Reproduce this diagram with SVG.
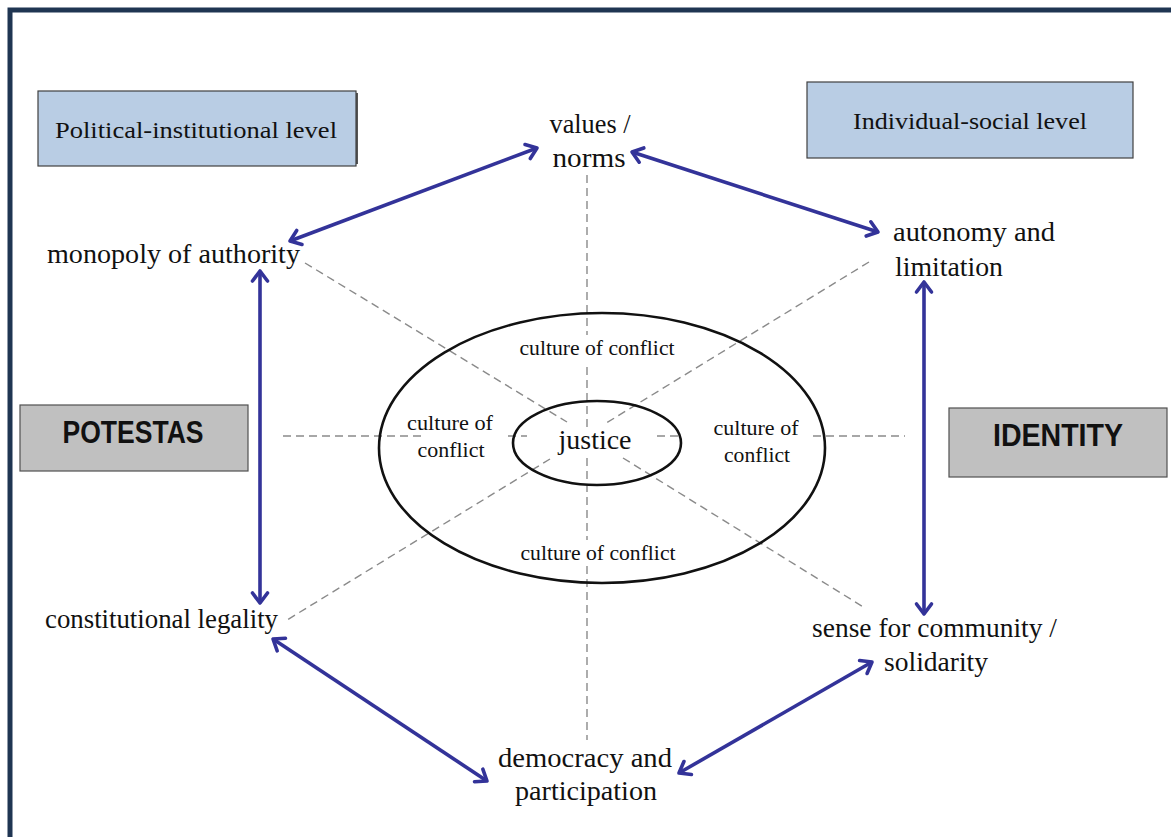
<svg xmlns="http://www.w3.org/2000/svg" width="1171" height="837" viewBox="0 0 1171 837">
  <style>
    .lbl { font-family: "Liberation Serif", "DejaVu Serif", serif; font-size: 27px; fill: #111; }
    .coc { font-family: "Liberation Serif", "DejaVu Serif", serif; font-size: 21px; fill: #111; }
    .lvl { font-family: "Liberation Serif", "DejaVu Serif", serif; font-size: 23px; fill: #111; }
    .big { font-family: "Liberation Sans", "Arial", sans-serif; font-size: 31px; font-weight: bold; fill: #111; }
    .lvlbox { fill: #b9cde4; stroke: #404040; stroke-width: 1.2; }
    .greybox { fill: #c0c0c0; stroke: #505050; stroke-width: 1.2; }
    .ring { fill: none; stroke: #111; stroke-width: 2.6; }
    .dash { fill: none; stroke: #8a8a8a; stroke-width: 1.4; stroke-dasharray: 8 5; }
    .link { fill: none; stroke: #333399; stroke-width: 3.6; marker-start: url(#chev); marker-end: url(#chev); }
  </style>
  <defs>
    <marker id="chev" viewBox="-14 -10 18 20" refX="0" refY="0" markerWidth="18" markerHeight="20" markerUnits="userSpaceOnUse" orient="auto-start-reverse" overflow="visible">
      <path d="M-10,-7.5 L0,0 L-10,7.5" fill="none" stroke="#333399" stroke-width="3.6" stroke-linejoin="round" stroke-linecap="round"/>
    </marker>
  </defs>

  <!-- page frame -->
  <rect x="0" y="0" width="1171" height="837" fill="#ffffff"/>
  <rect x="10" y="10" width="1200" height="900" fill="#ffffff" stroke="#1f3552" stroke-width="5"/>

  <!-- level boxes -->
  <g id="political-level">
    <rect x="40" y="93" width="318" height="71" fill="#555"/>
    <rect class="lvlbox" x="38" y="91" width="318" height="75"/>
    <text class="lvl" x="196" y="138" text-anchor="middle" textLength="282" lengthAdjust="spacingAndGlyphs">Political-institutional level</text>
  </g>
  <g id="individual-level">
    <rect class="lvlbox" x="807" y="82" width="326" height="76"/>
    <text class="lvl" x="970" y="129" text-anchor="middle" textLength="234" lengthAdjust="spacingAndGlyphs">Individual-social level</text>
  </g>
  <g id="potestas">
    <rect class="greybox" x="20" y="405" width="228" height="66"/>
    <text class="big" x="133" y="443" text-anchor="middle" textLength="141" lengthAdjust="spacingAndGlyphs">POTESTAS</text>
  </g>
  <g id="identity">
    <rect class="greybox" x="949" y="408" width="218" height="69"/>
    <text class="big" x="1058" y="446" text-anchor="middle" textLength="130" lengthAdjust="spacingAndGlyphs">IDENTITY</text>
  </g>

  <!-- dashed guide lines through the centre -->
  <g id="guides">
    <line class="dash" x1="587" y1="175" x2="587" y2="335"/>
    <line class="dash" x1="587" y1="367" x2="587" y2="428"/>
    <line class="dash" x1="587" y1="458" x2="587" y2="540"/>
    <line class="dash" x1="587" y1="566" x2="587" y2="740"/>
    <line class="dash" x1="283" y1="436" x2="422" y2="436"/>
    <line class="dash" x1="508" y1="436" x2="527" y2="436"/>
    <line class="dash" x1="657" y1="436" x2="678" y2="436"/>
    <line class="dash" x1="813" y1="436" x2="905" y2="436"/>
    <line class="dash" x1="305" y1="263" x2="567" y2="422"/>
    <line class="dash" x1="623" y1="458" x2="865" y2="608"/>
    <line class="dash" x1="869" y1="262" x2="603" y2="425"/>
    <line class="dash" x1="550" y1="459" x2="287" y2="620"/>
  </g>

  <!-- central rings -->
  <g id="outer-ring">
    <ellipse class="ring" cx="602" cy="448" rx="223" ry="135"/>
    <text class="coc" x="597" y="355" text-anchor="middle" textLength="155" lengthAdjust="spacingAndGlyphs">culture of conflict</text>
    <text class="coc" x="598" y="560" text-anchor="middle" textLength="155" lengthAdjust="spacingAndGlyphs">culture of conflict</text>
    <text class="coc" x="450" y="430" text-anchor="middle" textLength="86" lengthAdjust="spacingAndGlyphs">culture of</text>
    <text class="coc" x="451" y="457" text-anchor="middle" textLength="67" lengthAdjust="spacingAndGlyphs">conflict</text>
    <text class="coc" x="756" y="435" text-anchor="middle" textLength="85" lengthAdjust="spacingAndGlyphs">culture of</text>
    <text class="coc" x="757" y="462" text-anchor="middle" textLength="66" lengthAdjust="spacingAndGlyphs">conflict</text>
  </g>
  <g id="justice">
    <ellipse class="ring" cx="597" cy="443" rx="84" ry="42"/>
    <text class="lbl" x="595" y="449" text-anchor="middle" font-size="29" textLength="73" lengthAdjust="spacingAndGlyphs">justice</text>
  </g>

  <!-- outer nodes -->
  <g id="values-norms">
    <text class="lbl" x="590" y="133" text-anchor="middle" textLength="81" lengthAdjust="spacingAndGlyphs">values /</text>
    <text class="lbl" x="589" y="167" text-anchor="middle" textLength="73" lengthAdjust="spacingAndGlyphs">norms</text>
  </g>
  <g id="monopoly-of-authority">
    <text class="lbl" x="47" y="263" textLength="253" lengthAdjust="spacingAndGlyphs">monopoly of authority</text>
  </g>
  <g id="autonomy-and-limitation">
    <text class="lbl" x="893" y="241" textLength="162" lengthAdjust="spacingAndGlyphs">autonomy and</text>
    <text class="lbl" x="895" y="276" textLength="108" lengthAdjust="spacingAndGlyphs">limitation</text>
  </g>
  <g id="constitutional-legality">
    <text class="lbl" x="45" y="628" textLength="233" lengthAdjust="spacingAndGlyphs">constitutional legality</text>
  </g>
  <g id="sense-for-community">
    <text class="lbl" x="812" y="637" textLength="245" lengthAdjust="spacingAndGlyphs">sense for community /</text>
    <text class="lbl" x="884" y="671" textLength="104" lengthAdjust="spacingAndGlyphs">solidarity</text>
  </g>
  <g id="democracy-and-participation">
    <text class="lbl" x="498" y="767" textLength="174" lengthAdjust="spacingAndGlyphs">democracy and</text>
    <text class="lbl" x="515" y="800" textLength="142" lengthAdjust="spacingAndGlyphs">participation</text>
  </g>

  <!-- two-way connectors -->
  <g id="connectors">
    <line class="link" x1="290" y1="241" x2="537" y2="148"/>
    <line class="link" x1="632" y1="152" x2="878" y2="232"/>
    <line class="link" x1="260" y1="271" x2="260" y2="603"/>
    <line class="link" x1="924" y1="282" x2="924" y2="614"/>
    <line class="link" x1="273" y1="639" x2="487" y2="781"/>
    <line class="link" x1="679" y1="773" x2="872" y2="662"/>
  </g>
</svg>
